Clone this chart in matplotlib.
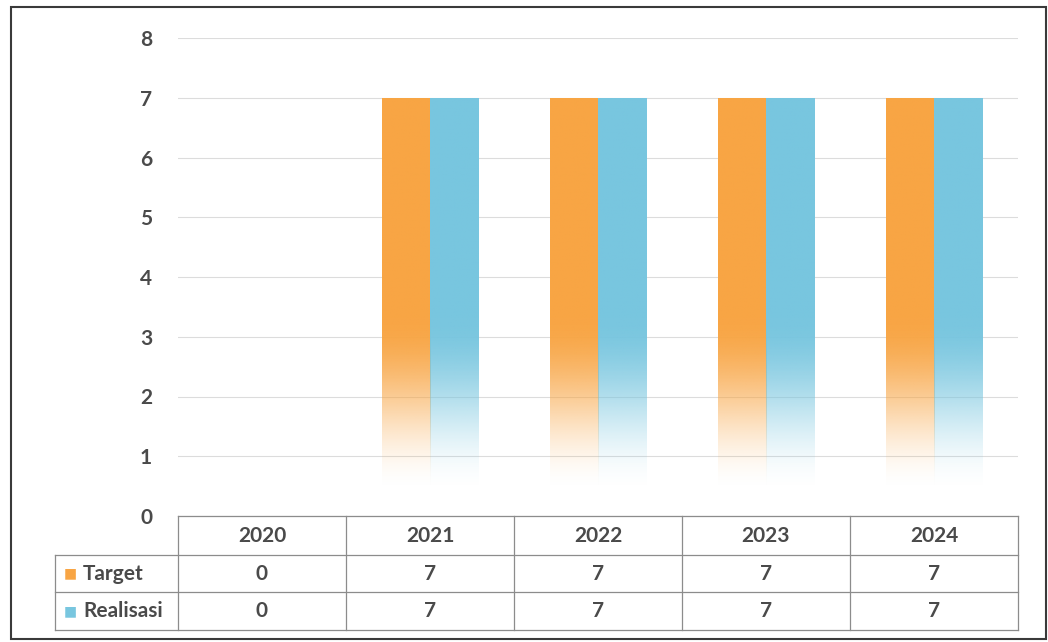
import numpy as np
import matplotlib
matplotlib.use("Agg")
import matplotlib.pyplot as plt
from matplotlib.patches import Rectangle

years = ["2020", "2021", "2022", "2023", "2024"]
target = [0, 7, 7, 7, 7]
realisasi = [0, 7, 7, 7, 7]
series_names = ["Target", "Realisasi"]
series_colors = ["#F8A544", "#78C6DF"]
yticks = [0, 1, 2, 3, 4, 5, 6, 7, 8]

W, H = 1048, 642
plt.rcParams["font.family"] = ["Lato", "DejaVu Sans"]
plt.rcParams["font.weight"] = "bold"
txt = "#4a4a4a"
fs = 15

fig = plt.figure(figsize=(W / 100, H / 100), dpi=100)

def fx(px):
    return px / W

def fy(py):
    return 1 - py / H

# plot area in pixels
L, R, T, B = 178, 1018, 38, 516
ax = fig.add_axes([fx(L), fy(B), fx(R - L), (B - T) / H])
for s in ax.spines.values():
    s.set_visible(False)
ax.set_xticks([])
ax.set_yticks(yticks)
ax.tick_params(axis="y", length=0, pad=23, labelsize=fs, labelcolor=txt)
for lab in ax.get_yticklabels():
    lab.set_fontweight("bold")
    lab.set_horizontalalignment("center")
ax.yaxis.grid(True, color="#dcdcdc", linewidth=0.8)
ax.set_axisbelow(True)

bw = 0.286
x = np.arange(len(years))

def grad_bar(xc, val, color):
    if val <= 0:
        return
    rgb = np.array(matplotlib.colors.to_rgb(color))
    n = 300
    ys = np.linspace(0, val, n)
    t = np.clip((ys - 0.4) / (3.3 - 0.4), 0, 1)
    a = t * t * (3 - 2 * t)
    img = np.ones((n, 1, 4))
    img[:, 0, :3] = rgb
    img[:, 0, 3] = a
    bar = ax.bar(xc, val, bw, color="none", edgecolor="none")[0]
    im = ax.imshow(img, origin="lower", aspect="auto",
                   extent=[xc - bw / 2, xc + bw / 2, 0, val], zorder=2)
    im.set_clip_path(bar)

for i in range(len(years)):
    grad_bar(x[i] - bw / 2, target[i], series_colors[0])
    grad_bar(x[i] + bw / 2, realisasi[i], series_colors[1])
ax.set_xlim(-0.5, len(years) - 0.5)
ax.set_ylim(0, 8)

# data table under the plot
rows = [target, realisasi]
row_y = [516, 555, 592, 630]
lab_left = 55
col_w = (R - L) / len(years)
lc = "#8c8c8c"
lw = 0.9

def hline(y, x0, x1):
    fig.add_artist(plt.Line2D([fx(x0), fx(x1)], [fy(y), fy(y)], color=lc, lw=lw))

def vline(xp, y0, y1):
    fig.add_artist(plt.Line2D([fx(xp), fx(xp)], [fy(y0), fy(y1)], color=lc, lw=lw))

hline(row_y[0], L, R)
for y in row_y[1:]:
    hline(y, lab_left, R)
vline(lab_left, row_y[1], row_y[3])
for j in range(len(years) + 1):
    vline(L + j * col_w, row_y[0], row_y[3])

for j, yr in enumerate(years):
    fig.text(fx(L + (j + 0.5) * col_w), fy((row_y[0] + row_y[1]) / 2), yr,
             ha="center", va="center", fontsize=fs, color=txt, fontweight="bold")
for r, vals in enumerate(rows):
    yc = (row_y[r + 1] + row_y[r + 2]) / 2
    fig.text(fx(lab_left + 15), fy(yc), "\u25A0", ha="center", va="center",
             fontsize=10, color=series_colors[r], family="DejaVu Sans")
    fig.text(fx(lab_left + 28), fy(yc), series_names[r], ha="left", va="center",
             fontsize=fs, color=txt, fontweight="bold")
    for j, v in enumerate(vals):
        fig.text(fx(L + (j + 0.5) * col_w), fy(yc), str(v), ha="center", va="center",
                 fontsize=fs, color=txt, fontweight="bold")

# outer frame
fig.add_artist(Rectangle((fx(11), fy(639)), fx(1046 - 11), (639 - 7) / H,
                         fill=False, edgecolor="#3a3a3a", lw=1.5))

fig.savefig("out.png", dpi=100)
